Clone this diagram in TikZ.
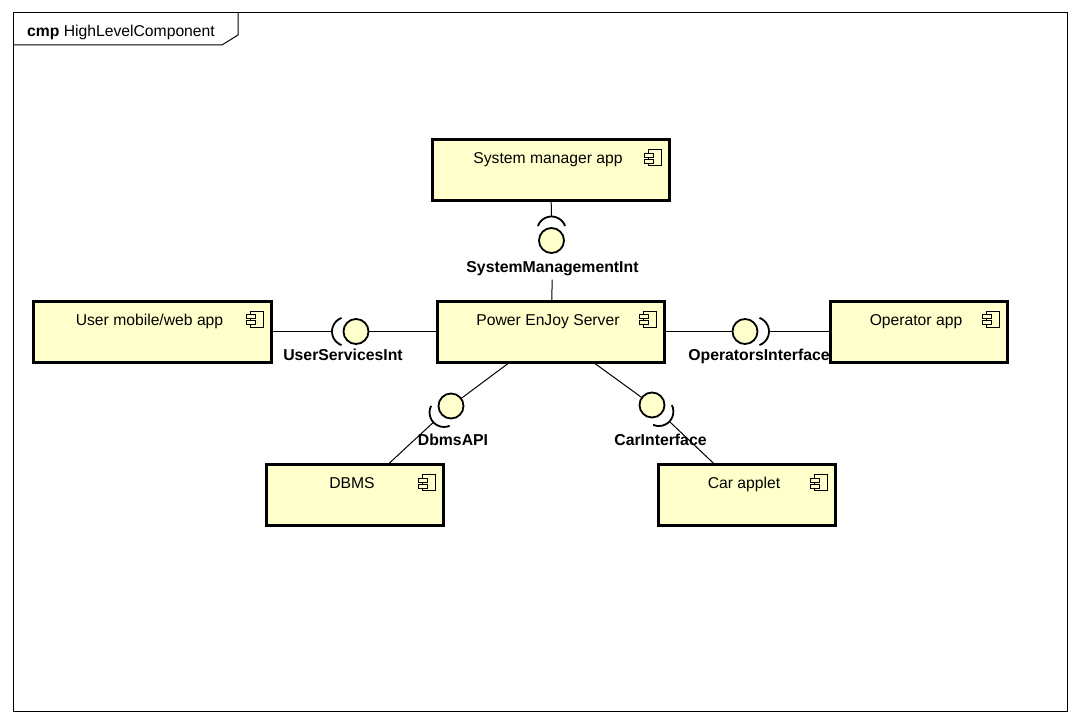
\documentclass[tikz,border=0pt]{standalone}
\usepackage{fontspec}
\setmainfont{Liberation Sans}
\usetikzlibrary{calc}
\definecolor{compfill}{RGB}{255,255,204}
\newcommand\boxfont{\fontsize{15.7}{18}\selectfont}
\newcommand\lblfont{\fontsize{15.8}{18}\selectfont\bfseries}
% required-interface socket: half-open arc in front of a ball, facing angle #2
\newcommand\sockarc[2]{\draw[sockline] ($(#1)+(#2:9.5)+(#2-70:14.5)$) arc[start angle=#2-70, end angle=#2+70, radius=14.5pt];}

\begin{document}
\begin{tikzpicture}[x=1pt,y=1pt,yscale=-1,
  comp/.style={draw, line width=3pt, fill=compfill, minimum width=#1, minimum height=61pt,
    inner sep=0pt, outer sep=0pt, text height=24pt, text depth=37pt, font=\boxfont,
    execute at end node={\hspace{6pt}}},
  ball/.style={circle, draw, line width=1.8pt, fill=compfill, minimum size=25pt, inner sep=0pt, outer sep=0pt},
  sockline/.style={line width=1.8pt},
  wire/.style={line width=1pt},
  ifname/.style={anchor=base, font=\lblfont, inner sep=4pt},
  iconline/.style={line width=0.9pt, fill=compfill},
  frameline/.style={line width=1pt}]

\fill[white] (0,0) rectangle (1080,725);
\useasboundingbox (0,0) rectangle (1080,725);

% diagram frame with name tab
\draw[frameline] (13,13) rectangle (1067,711);
\draw[frameline] (13,45) -- (222,45) -- (238,35) -- (238,13);
\node[anchor=base west, font=\boxfont, inner sep=0pt] (title) at (27,36.5) {\textbf{cmp} HighLevelComponent};

% components
\node[comp=237pt] (sysmgr) at (551,170) {System manager app};
\node[comp=238pt] (usr) at (152.5,331.5) {User mobile/web app};
\node[comp=227pt] (server) at (551,331.5) {Power EnJoy Server};
\node[comp=177pt] (oper) at (919,331.5) {Operator app};
\node[comp=177pt] (dbms) at (355,495) {DBMS};
\node[comp=177pt] (car) at (747,495) {Car applet};

% component icons
\foreach \n in {sysmgr,usr,server,oper,dbms,car}{
  \draw[iconline] ($(\n.north east)+(-21,10)$) rectangle ($(\n.north east)+(-8,26)$);
  \draw[iconline] ($(\n.north east)+(-25.5,13.5)$) rectangle ($(\n.north east)+(-16.5,17.5)$);
  \draw[iconline] ($(\n.north east)+(-25.5,19.5)$) rectangle ($(\n.north east)+(-16.5,23.5)$);
}

% provided interfaces (balls)
\node[ball] (ballSys) at (551.5,240.5) {};
\node[ball] (ballUsr) at (356,331.5) {};
\node[ball] (ballOp) at (745,331.5) {};
\node[ball] (ballDb) at (451,406) {};
\node[ball] (ballCar) at (652,405) {};

% interface names
\node[ifname] (lblSys) at (552.5,272) {SystemManagementInt};
\node[ifname] (lblUsr) at (343,360) {UserServicesInt};
\node[ifname] (lblOp) at (759,360) {OperatorsInterface};
\node[ifname] (lblDb) at (453,445) {DbmsAPI};
\node[ifname] (lblCar) at (660.5,445) {CarInterface};

% socket tips
\coordinate (sockSys) at ($(ballSys)!24pt!(sysmgr)$);
\coordinate (sockUsr) at ($(ballUsr)!24pt!(usr)$);
\coordinate (sockOp) at ($(ballOp)!24pt!(oper)$);
\coordinate (sockDb) at ($(ballDb)!24pt!(dbms)$);
\coordinate (sockCar) at ($(ballCar)!24pt!(car)$);

% sockets
\sockarc{ballSys}{-90}
\sockarc{ballUsr}{180}
\sockarc{ballOp}{0}
\sockarc{ballDb}{137.2}
\sockarc{ballCar}{43.5}

% connectors
\draw[wire] (sysmgr) -- (sockSys);
\draw[wire] (server) -- (lblSys);
\draw[wire] (usr) -- (sockUsr);
\draw[wire] (ballUsr) -- (server);
\draw[wire] (server) -- (ballOp);
\draw[wire] (sockOp) -- (oper);
\draw[wire] (server) -- (ballDb);
\draw[wire] (sockDb) -- (dbms);
\draw[wire] (server) -- (ballCar);
\draw[wire] (sockCar) -- (car);
\end{tikzpicture}
\end{document}
